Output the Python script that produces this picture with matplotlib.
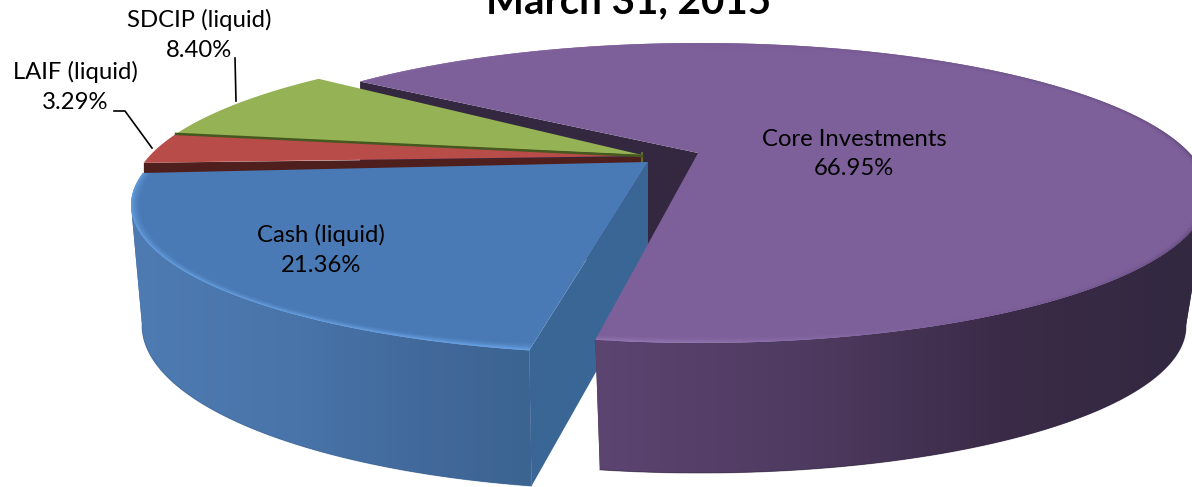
import matplotlib
matplotlib.use('Agg')
from matplotlib import pyplot as plt
from matplotlib.colors import to_rgb
from matplotlib.patches import Polygon
import numpy as np

labels = ['Core Investments', 'SDCIP (liquid)', 'LAIF (liquid)', 'Cash (liquid)']
values = [66.95, 8.40, 3.29, 21.36]
title = 'March 31, 2015'

W, H = 1192, 487
FONT = 'Lato'

# where the pie starts, degrees counter-clockwise, before the perspective warp
START = 140.0

# rim ellipses in pixels (cx, cy, rx, ry)
GROUP_TOP = (640, 195, 508, 150)
CASH_TOP = (640, 205, 509, 149)
CASH_BOT = (640, 325, 498, 165)
CORE_TOP = (700, 193, 508, 150)
CORE_BOT = (700, 326, 486, 147)

GROUP_APEX = (642, 155)
CASH_APEX = (648, 162)
CASH_APEX_BOT = (648, 280)
CORE_APEX = (698, 153)
CORE_APEX_DROP = 130


def warp(theta, strength):
    # front of the tilted pie takes more room than the back
    return theta + strength * np.cos(np.radians(theta)) + 1.5


def rim(ell, t):
    cx, cy, rx, ry = ell
    a = np.radians(t)
    return np.column_stack([cx + rx * np.cos(a), cy - ry * np.sin(a)])


def wedge(ell, apex, t0, t1):
    t = np.linspace(t0, t1, 200)
    return np.vstack([[apex], rim(ell, t)])


def mix_colors(pos, stops, colors):
    rgb = np.array([to_rgb(c) for c in colors])
    return np.stack([np.interp(pos, stops, rgb[:, i]) for i in range(3)], axis=-1)


def side_wall(ax, top, bot, t0, t1, stops, colors, z):
    # curved wall, shaded left to right with a clipped gradient
    t = np.linspace(t0, t1, 260)
    a, b = rim(top, t), rim(bot, t)
    outline = np.vstack([a, b[::-1]])
    base = Polygon(outline, fc=colors[len(colors) // 2], ec='none', zorder=z)
    ax.add_patch(base)
    xs = np.arange(0, W + 1)
    img = mix_colors(xs, stops, colors)[np.newaxis, :, :]
    im = ax.imshow(img, extent=(0, W, H, 0), aspect='auto', interpolation='bilinear', zorder=z + 0.1)
    im.set_clip_path(base)
    ax.plot(b[:, 0], b[:, 1], color=colors[-1], lw=0.8, alpha=0.5, zorder=z + 0.2)


def bevel(ax, ell, stops, colors, clip, z, width=10, power=2.0):
    # soft edge of the top face, drawn as an RGBA layer over the flat fill
    cx, cy, rx, ry = ell
    X, Y = np.meshgrid(np.arange(W) + 0.5, np.arange(H) + 0.5)
    u, v = (X - cx) / rx, (cy - Y) / ry
    r = np.hypot(u, v)
    t = np.degrees(np.arctan2(v, u)) % 360
    local = np.hypot(rx * u, ry * v) / np.maximum(r, 1e-6)
    k = np.clip(1 - (1 - r) * local / width, 0, 1) ** power
    rgba = np.dstack([mix_colors(t, stops, colors), k])
    im = ax.imshow(rgba, extent=(0, W, H, 0), aspect='auto', interpolation='bilinear', zorder=z)
    im.set_clip_path(clip)


# slice boundaries: the liquid slices run counter-clockwise from START, core takes the rest
core, sdcip, laif, cash = values
theta = START + np.cumsum([0, sdcip, laif, cash]) * 3.6
t_sdcip, t_laif, t_cash0, t_cash1 = warp(theta, 16)
t_core0 = warp(START, 12.4)
t_core1 = warp(START - core * 3.6, 12.4)

fig = plt.figure(figsize=(W / 100, H / 100), dpi=100)
ax = fig.add_axes([0, 0, 1, 1])

# inner wall of the core slice, seen behind the liquid slices
corner = rim(CORE_TOP, np.array([t_core0]))[0]
ax.add_patch(Polygon([corner, CORE_APEX, (CORE_APEX[0], CORE_APEX[1] + CORE_APEX_DROP),
                      (corner[0], corner[1] + CORE_APEX_DROP)], fc='#332840', ec='none', zorder=1))

# dark wall under the LAIF slice
laif_edge = rim(GROUP_TOP, np.array([t_cash0]))[0]
ax.add_patch(Polygon([laif_edge, (GROUP_APEX[0], GROUP_APEX[1] + 2), (GROUP_APEX[0], GROUP_APEX[1] + 40),
                      (laif_edge[0], laif_edge[1] + 40)], fc='#4f1f1d', ec='none', zorder=2))

# green and red top faces
ax.add_patch(Polygon(wedge(GROUP_TOP, GROUP_APEX, t_sdcip, t_laif), fc='#95b255', ec='none', zorder=3))
ax.add_patch(Polygon(wedge(GROUP_TOP, (GROUP_APEX[0], GROUP_APEX[1] + 1), t_laif, t_cash0),
                     fc='#b84c49', ec='none', zorder=3))
split = rim(GROUP_TOP, np.array([t_laif]))[0]
ax.plot([split[0], GROUP_APEX[0]], [split[1], GROUP_APEX[1] + 1], color='#46571f', lw=1.8, zorder=4)
ax.plot([GROUP_APEX[0], GROUP_APEX[0]], [GROUP_APEX[1] - 2, GROUP_APEX[1] + 8], color='#5a6e2a', lw=1.5, zorder=2.5)

# cash slice: cut face, curved wall, top
c_top = rim(CASH_TOP, np.array([t_cash1]))[0]
c_bot = rim(CASH_BOT, np.array([t_cash1]))[0]
ax.add_patch(Polygon([CASH_APEX, c_top, c_bot, CASH_APEX_BOT], fc='#3a6695', ec='none', zorder=5))
# the wall only shows from the left-most point of the rim onwards
side_wall(ax, CASH_TOP, CASH_BOT, 180, t_cash1,
          [130, 300, 420, 530], ['#4e7bb2', '#4874a9', '#42699b', '#3c6491'], 6)
cash_face = Polygon(wedge(CASH_TOP, CASH_APEX, t_cash0, t_cash1), fc='#4a7ab5', ec='none', zorder=7)
ax.add_patch(cash_face)
bevel(ax, CASH_TOP, [160, 260], ['#629bdd', '#6ba6ea'], cash_face, 8, width=11)

# core slice: curved wall and top
side_wall(ax, CORE_TOP, CORE_BOT, t_core1, 0,
          [595, 800, 1000, 1192], ['#5c4571', '#4f3b61', '#3b2b48', '#322840'], 9)
core_face = Polygon(wedge(CORE_TOP, CORE_APEX, t_core1, t_core0), fc='#7d5f9a', ec='none', zorder=10)
ax.add_patch(core_face)
bevel(ax, CORE_TOP, [0, 40, 90, 250, 265, 300, 360],
      ['#5a4472', '#6a5085', '#7d5f9a', '#9678b4', '#9678b4', '#7d5f9a', '#5a4472'], core_face, 11, width=9, power=2.5)

# leader lines
ax.plot([235, 236], [58, 101], color='black', lw=1.2, zorder=12)
ax.plot([114, 125, 152], [111, 111, 148], color='black', lw=1.2, zorder=12)

# slice labels
spots = [(854, 154), (199, 35), (75, 87), (321, 250)]
for name, val, (x, y) in zip(labels, values, spots):
    ax.text(x, y, f'{name}\n{val:.2f}%', family=FONT, fontsize=17.2, ha='center', va='center',
            linespacing=1.5, color='black', zorder=13)

ax.text(629, 13, title, family=FONT, fontsize=29, fontweight='bold', ha='center', va='baseline',
        color='black', zorder=13, clip_on=True)

ax.set_xlim(0, W)
ax.set_ylim(H, 0)
ax.axis('off')

plt.savefig('out.png', dpi=100)
